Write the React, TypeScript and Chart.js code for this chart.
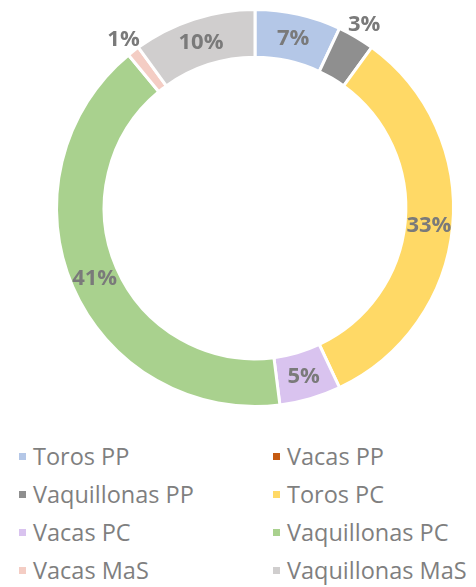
import React, { useEffect, useRef } from "react";
import { Chart, registerables } from "chart.js";

Chart.register(...registerables);

const categories = [
  "Toros PP",
  "Vacas PP",
  "Vaquillonas PP",
  "Toros PC",
  "Vacas PC",
  "Vaquillonas PC",
  "Vacas MaS",
  "Vaquillonas MaS",
];
const values = [7, 0, 3, 33, 5, 41, 1, 10];
const colors = [
  "#b4c7e7",
  "#c55a11",
  "#8f8f8f",
  "#ffd966",
  "#d9c3ef",
  "#a9d18e",
  "#f4cdc4",
  "#d0cece",
];

const labelPlugin = {
  id: "pctLabels",
  afterDatasetsDraw(chart: any) {
    const ctx = chart.ctx;
    const meta = chart.getDatasetMeta(0);
    const data = chart.data.datasets[0].data as number[];
    const total = data.reduce((a, b) => a + b, 0);
    ctx.save();
    ctx.font = "bold 22px 'Open Sans'";
    ctx.fillStyle = "#7a7a7a";
    ctx.textAlign = "center";
    ctx.textBaseline = "middle";
    meta.data.forEach((arc: any, i: number) => {
      const v = data[i];
      if (!v) return;
      const pct = Math.round((v / total) * 100);
      const { x, y, startAngle, endAngle, innerRadius, outerRadius } = arc.getProps(
        ["x", "y", "startAngle", "endAngle", "innerRadius", "outerRadius"],
        true
      );
      const mid = (startAngle + endAngle) / 2;
      const r = pct < 4 ? outerRadius + 16 : (innerRadius + outerRadius) / 2;
      ctx.fillText(pct + "%", x + Math.cos(mid) * r, y + Math.sin(mid) * r + 1);
    });
    ctx.restore();
  },
};

export default function App() {
  const ref = useRef<HTMLCanvasElement>(null);
  useEffect(() => {
    document.body.style.margin = "0";
    const chart = new Chart(ref.current!, {
      type: "doughnut",
      data: {
        labels: categories,
        datasets: [
          {
            data: values,
            backgroundColor: colors,
            borderColor: "#ffffff",
            borderWidth: 3,
            hoverOffset: 0,
          },
        ],
      },
      options: {
        responsive: false,
        animation: false,
        cutout: "76%",
        layout: { padding: { left: 55, right: 21, top: 8, bottom: 22 } },
        plugins: {
          legend: { display: false },
          tooltip: { enabled: false },
        },
      },
      plugins: [labelPlugin],
    });
    return () => chart.destroy();
  }, []);

  return (
    <div style={{ position: "relative", width: 476, height: 587, background: "#fff", fontFamily: "'Open Sans', sans-serif" }}>
      <canvas ref={ref} width={476} height={430} style={{ position: "absolute", left: 0, top: 0 }} />
      {categories.map((c, i) => {
        const col = i % 2;
        const row = Math.floor(i / 2);
        const cy = 456 + row * 38;
        return (
          <div
            key={c}
            style={{
              position: "absolute",
              left: col === 0 ? 19 : 273,
              top: cy - 15,
              height: 30,
              display: "flex",
              alignItems: "center",
              whiteSpace: "nowrap",
            }}
          >
            <span style={{ width: 7, height: 7, background: colors[i], display: "inline-block", marginRight: 7 }} />
            <span style={{ fontSize: 23.5, color: "#7f7f7f", lineHeight: "30px" }}>{c}</span>
          </div>
        );
      })}
    </div>
  );
}
